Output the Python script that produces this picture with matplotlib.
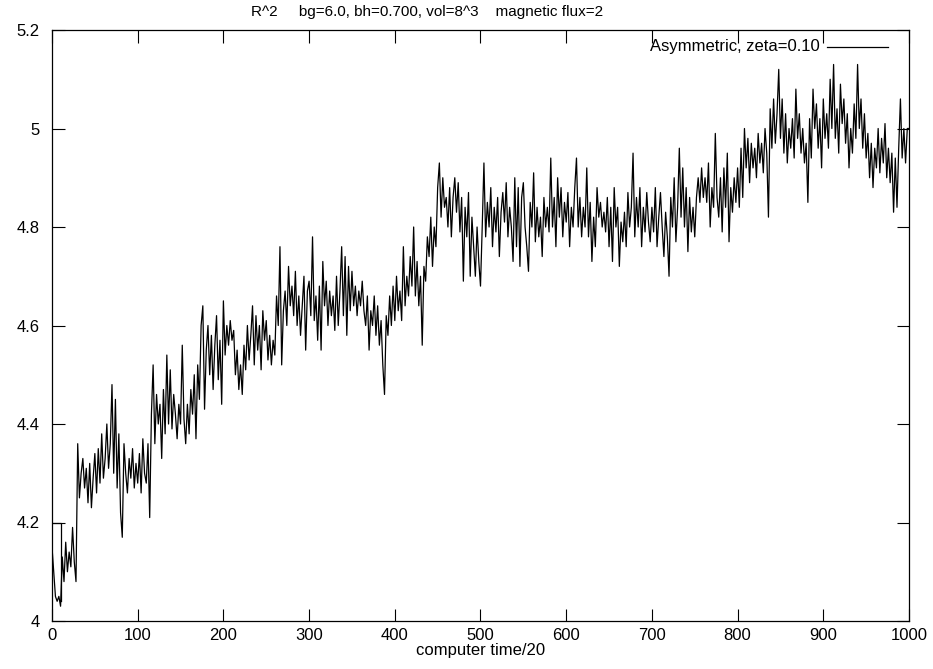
import matplotlib

matplotlib.use("Agg")
import matplotlib.pyplot as plt
import numpy as np

time_step = 2
r2_values = [
    4.15, 4.10, 4.05, 4.04, 4.05, 4.03, 4.13, 4.08, 4.16, 4.10, 4.14, 4.11, 4.19, 4.12, 4.08, 4.36, 4.25, 4.30, 4.33, 4.27, 4.31, 4.24, 4.32, 4.23, 4.29,
    4.34, 4.26, 4.35, 4.28, 4.38, 4.29, 4.33, 4.40, 4.31, 4.36, 4.48, 4.30, 4.45, 4.27, 4.38, 4.22, 4.17, 4.36, 4.30, 4.26, 4.33, 4.29, 4.35, 4.27, 4.32,
    4.28, 4.34, 4.26, 4.37, 4.30, 4.28, 4.36, 4.21, 4.42, 4.52, 4.36, 4.46, 4.40, 4.44, 4.33, 4.47, 4.38, 4.54, 4.40, 4.51, 4.39, 4.46, 4.42, 4.37, 4.44,
    4.40, 4.56, 4.41, 4.36, 4.44, 4.38, 4.47, 4.42, 4.50, 4.37, 4.52, 4.45, 4.60, 4.64, 4.43, 4.55, 4.60, 4.50, 4.58, 4.47, 4.56, 4.62, 4.49, 4.57, 4.44,
    4.65, 4.54, 4.60, 4.56, 4.61, 4.57, 4.59, 4.50, 4.55, 4.47, 4.52, 4.46, 4.56, 4.51, 4.60, 4.53, 4.58, 4.64, 4.52, 4.62, 4.55, 4.60, 4.51, 4.63, 4.57,
    4.61, 4.53, 4.58, 4.52, 4.57, 4.54, 4.66, 4.60, 4.76, 4.52, 4.63, 4.67, 4.60, 4.72, 4.64, 4.68, 4.62, 4.71, 4.60, 4.66, 4.58, 4.64, 4.70, 4.55, 4.67,
    4.69, 4.62, 4.78, 4.61, 4.66, 4.57, 4.68, 4.55, 4.73, 4.64, 4.69, 4.60, 4.67, 4.62, 4.66, 4.59, 4.70, 4.60, 4.67, 4.76, 4.62, 4.74, 4.58, 4.72, 4.63,
    4.71, 4.64, 4.68, 4.62, 4.67, 4.64, 4.69, 4.63, 4.60, 4.66, 4.55, 4.63, 4.60, 4.66, 4.58, 4.64, 4.56, 4.61, 4.52, 4.46, 4.62, 4.58, 4.66, 4.60, 4.68,
    4.61, 4.70, 4.63, 4.67, 4.61, 4.76, 4.64, 4.70, 4.66, 4.74, 4.68, 4.80, 4.66, 4.73, 4.64, 4.70, 4.56, 4.72, 4.69, 4.78, 4.74, 4.82, 4.72, 4.80, 4.76,
    4.88, 4.93, 4.82, 4.90, 4.84, 4.86, 4.80, 4.88, 4.78, 4.86, 4.90, 4.83, 4.89, 4.79, 4.86, 4.69, 4.84, 4.78, 4.87, 4.70, 4.82, 4.76, 4.70, 4.80, 4.73,
    4.68, 4.80, 4.93, 4.78, 4.85, 4.80, 4.88, 4.76, 4.84, 4.79, 4.86, 4.74, 4.83, 4.87, 4.81, 4.89, 4.78, 4.84, 4.80, 4.73, 4.90, 4.76, 4.88, 4.72, 4.86,
    4.89, 4.80, 4.76, 4.71, 4.85, 4.80, 4.91, 4.77, 4.84, 4.78, 4.82, 4.74, 4.86, 4.80, 4.84, 4.79, 4.94, 4.80, 4.86, 4.76, 4.90, 4.82, 4.88, 4.78, 4.85,
    4.81, 4.87, 4.76, 4.84, 4.80, 4.88, 4.94, 4.80, 4.86, 4.78, 4.84, 4.80, 4.92, 4.78, 4.85, 4.73, 4.82, 4.76, 4.88, 4.82, 4.85, 4.80, 4.83, 4.79, 4.86,
    4.76, 4.84, 4.73, 4.88, 4.80, 4.84, 4.72, 4.81, 4.77, 4.83, 4.76, 4.87, 4.80, 4.84, 4.95, 4.78, 4.86, 4.80, 4.88, 4.76, 4.84, 4.79, 4.87, 4.81, 4.77,
    4.84, 4.79, 4.88, 4.76, 4.82, 4.87, 4.80, 4.74, 4.83, 4.78, 4.70, 4.86, 4.80, 4.90, 4.77, 4.84, 4.96, 4.82, 4.92, 4.80, 4.88, 4.75, 4.86, 4.79, 4.84,
    4.78, 4.86, 4.90, 4.85, 4.92, 4.86, 4.90, 4.85, 4.93, 4.80, 4.88, 4.84, 4.99, 4.86, 4.82, 4.90, 4.79, 4.92, 4.84, 4.95, 4.77, 4.88, 4.83, 4.90, 4.85,
    4.92, 4.84, 4.96, 4.86, 5.00, 4.92, 4.98, 4.89, 4.97, 4.92, 4.96, 4.90, 4.99, 4.93, 4.97, 4.91, 5.00, 4.95, 4.82, 5.04, 4.96, 5.06, 4.97, 5.03, 5.12,
    4.98, 5.06, 4.95, 5.03, 4.93, 5.00, 4.96, 5.02, 4.94, 5.08, 4.98, 5.03, 4.95, 5.00, 4.93, 4.97, 4.85, 5.02, 4.94, 5.08, 5.00, 5.05, 4.96, 5.02, 4.92,
    5.06, 4.98, 5.03, 4.96, 5.10, 5.00, 5.13, 4.98, 5.04, 4.95, 5.09, 5.01, 5.06, 4.97, 5.03, 4.92, 5.00, 4.95, 5.05, 4.98, 5.13, 5.00, 5.06, 4.96, 5.03,
    4.94, 4.99, 4.90, 4.97, 4.88, 4.96, 4.92, 5.00, 4.91, 4.98, 4.93, 5.01, 4.90, 4.96, 4.89, 4.95, 4.83, 4.94, 4.84, 4.96, 5.06, 4.94, 5.00, 4.93, 5.00,
    5.00,
]
# short start-up plateau drawn at the very beginning of the run
plateau_t = [0, 10, 10]
plateau_r2 = [4.20, 4.20, 4.04]

x_ticks = [0, 100, 200, 300, 400, 500, 600, 700, 800, 900, 1000]
y_ticks = [4.0, 4.2, 4.4, 4.6, 4.8, 5.0, 5.2]
y_tick_labels = ["4", "4.2", "4.4", "4.6", "4.8", "5", "5.2"]

plt.rcParams["font.family"] = ["Liberation Sans", "DejaVu Sans"]
FS = 12

fig = plt.figure(figsize=(9.33, 6.69), dpi=100)
ax = fig.add_axes([52 / 933, 48 / 669, 857 / 933, 591 / 669])

t = np.arange(len(r2_values)) * time_step
ax.plot(t, r2_values, color="black", linewidth=0.9)
ax.plot(plateau_t, plateau_r2, color="black", linewidth=0.9)

ax.set_xlim(0, 1000)
ax.set_ylim(4.0, 5.2)
ax.set_xticks(x_ticks)
ax.set_yticks(y_ticks)
ax.set_yticklabels(y_tick_labels)
ax.tick_params(direction="in", length=9, width=0.8, top=True, right=True,
               labelsize=FS)
ax.tick_params(axis="y", pad=9)
ax.tick_params(axis="x", pad=5)
for s in ax.spines.values():
    s.set_linewidth(0.9)

ax.set_xlabel("computer time/20", fontsize=FS, labelpad=0)

fig.text(427 / 933, 1 - 12 / 669,
         "R^2     bg=6.0, bh=0.700, vol=8^3    magnetic flux=2",
         ha="center", va="center", fontsize=11)

# gnuplot-style key in the upper right
ax.text(0.896, 0.972, "Asymmetric, zeta=0.10", transform=ax.transAxes,
        ha="right", va="center", fontsize=FS)
ax.plot([0.904, 0.9755], [0.972, 0.972], transform=ax.transAxes,
        color="black", linewidth=0.9)

fig.savefig("out.png", dpi=100)
